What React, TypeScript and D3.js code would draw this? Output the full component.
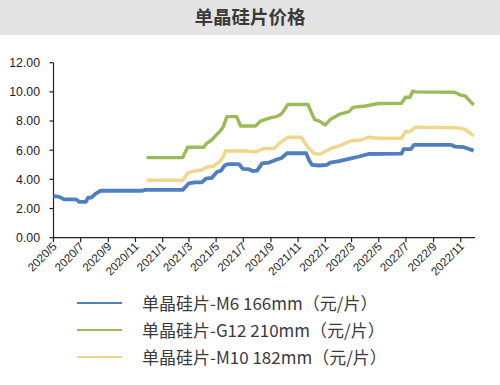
import React from "react";
import * as d3 from "d3";

const title = "单晶硅片价格";
const seriesNames = [
  "单晶硅片-M6 166mm（元/片）",
  "单晶硅片-G12 210mm（元/片）",
  "单晶硅片-M10 182mm（元/片）",
];
const colors = ["#4f7fbf", "#9bbb59", "#f0d68a"];

const m6Dates = ["2020-05-01","2020-05-14","2020-05-25","2020-06-21","2020-06-28","2020-07-12","2020-07-18","2020-07-25","2020-08-03","2020-08-15","2020-11-17","2020-11-22","2021-02-15","2021-03-01","2021-03-14","2021-03-30","2021-04-08","2021-04-21","2021-05-03","2021-05-12","2021-05-20","2021-05-29","2021-06-21","2021-06-30","2021-07-13","2021-07-22","2021-08-01","2021-08-12","2021-08-28","2021-09-13","2021-09-24","2021-10-07","2021-11-19","2021-11-26","2021-12-02","2021-12-18","2022-01-05","2022-01-12","2022-02-01","2022-02-28","2022-03-16","2022-04-08","2022-06-21","2022-06-26","2022-07-12","2022-07-19","2022-10-11","2022-10-19","2022-11-06","2022-11-18","2022-11-30"];
const m6Values = [2.85,2.8,2.63,2.63,2.45,2.45,2.75,2.75,3.0,3.22,3.22,3.28,3.28,3.73,3.8,3.8,4.05,4.1,4.5,4.6,4.95,5.05,5.05,4.72,4.7,4.57,4.6,5.1,5.15,5.35,5.45,5.79,5.79,5.3,5.0,4.95,5.0,5.15,5.25,5.44,5.55,5.74,5.76,6.08,6.08,6.36,6.36,6.25,6.22,6.1,5.97];

const g12Dates = ["2020-11-26","2021-02-15","2021-02-26","2021-04-03","2021-04-09","2021-04-21","2021-05-01","2021-05-09","2021-05-17","2021-05-25","2021-06-16","2021-06-25","2021-07-28","2021-08-09","2021-08-28","2021-09-13","2021-09-25","2021-10-09","2021-11-23","2021-12-08","2021-12-19","2022-01-01","2022-01-12","2022-02-01","2022-02-23","2022-03-04","2022-04-01","2022-05-01","2022-06-21","2022-06-30","2022-07-10","2022-07-16","2022-07-24","2022-10-18","2022-11-01","2022-11-11","2022-11-30"];
const g12Values = [5.49,5.49,6.2,6.2,6.45,6.7,7.04,7.27,7.6,8.3,8.3,7.66,7.66,8.0,8.2,8.3,8.5,9.13,9.13,8.1,8.0,7.73,8.1,8.45,8.64,8.94,9.03,9.2,9.22,9.63,9.63,10.05,10.0,9.97,9.78,9.72,9.1];

const m10Dates = ["2020-11-26","2021-02-15","2021-02-26","2021-03-12","2021-03-30","2021-04-09","2021-04-26","2021-05-09","2021-05-17","2021-05-22","2021-07-07","2021-07-28","2021-08-14","2021-09-09","2021-09-19","2021-10-09","2021-11-08","2021-11-23","2021-12-08","2021-12-21","2022-01-12","2022-02-01","2022-02-28","2022-03-22","2022-04-08","2022-05-01","2022-06-21","2022-06-30","2022-07-10","2022-07-22","2022-10-19","2022-11-01","2022-11-11","2022-11-30"];
const m10Values = [3.94,3.94,4.42,4.57,4.64,4.83,4.92,5.21,5.56,5.95,5.95,5.88,6.1,6.13,6.45,6.89,6.89,6.2,5.76,5.74,6.1,6.3,6.65,6.7,6.89,6.82,6.82,7.27,7.27,7.58,7.54,7.5,7.43,6.98];

const yTicks = [0, 2, 4, 6, 8, 10, 12];
const xTickDates = ["2020-05-01","2020-07-01","2020-09-01","2020-11-01","2021-01-01","2021-03-01","2021-05-01","2021-07-01","2021-09-01","2021-11-01","2022-01-01","2022-03-01","2022-05-01","2022-07-01","2022-09-01","2022-11-01"];
const xDomain = ["2020-05-01", "2022-12-03"];

const parse = d3.timeParse("%Y-%m-%d");

export default function App() {
  const W = 500, H = 385;
  const x = d3.scaleTime()
    .domain(xDomain.map((s) => parse(s) as Date))
    .range([53.5, 475]);
  const y = d3.scaleLinear().domain([0, 12]).range([237.7, 62.7]);

  const series = [
    { dates: m6Dates, values: m6Values },
    { dates: g12Dates, values: g12Values },
    { dates: m10Dates, values: m10Values },
  ];
  const line = d3.line<[Date, number]>()
    .x((d) => x(d[0]))
    .y((d) => y(d[1]));

  const order = [1, 2, 0];
  const axisFont = "'Liberation Sans', Arial, sans-serif";
  const cjkFont = "'Noto Sans CJK SC', 'Noto Sans', sans-serif";

  return (
    <div style={{ position: "absolute", left: 0, top: 0 }}>
      <svg width={W} height={H} style={{ display: "block" }}>
        <rect x={0} y={0} width={W} height={H} fill="#ffffff" />
        <rect x={0} y={0} width={W} height={35} fill="#e4e4e4" />
        <text x={250} y={24} textAnchor="middle" fontFamily={cjkFont} fontWeight={700} fontSize={18.5} fill="#3a3a3a">{title}</text>

        {/* y axis */}
        <line x1={53.5} x2={53.5} y1={y(12)} y2={y(0)} stroke="#222" strokeWidth={1.2} />
        {yTicks.map((t) => (
          <g key={t}>
            <line x1={49.5} x2={53.5} y1={y(t)} y2={y(t)} stroke="#222" strokeWidth={1.2} />
            <text x={40} y={y(t) + 4.4} textAnchor="end" fontFamily={axisFont} fontSize={12.3} fill="#222">{t.toFixed(2)}</text>
          </g>
        ))}

        {/* x axis */}
        <line x1={53.5} x2={475} y1={y(0)} y2={y(0)} stroke="#222" strokeWidth={1.2} />
        {xTickDates.map((s) => {
          const d = parse(s) as Date;
          const px = x(d);
          const label = `${d.getFullYear()}/${d.getMonth() + 1}`;
          return (
            <g key={s}>
              <line x1={px} x2={px} y1={y(0)} y2={y(0) + 4.5} stroke="#222" strokeWidth={1.2} />
              <text transform={`translate(${px + 4},${y(0) + 9.5}) rotate(-45)`} textAnchor="end" fontFamily={axisFont} fontSize={11.6} fill="#222">{label}</text>
            </g>
          );
        })}

        {/* series */}
        {order.map((i) => {
          const s = series[i];
          const pts = s.dates.map((dd, k) => [parse(dd) as Date, s.values[k]] as [Date, number]);
          return (
            <path key={i} d={line(pts) || ""} fill="none" stroke={colors[i]} strokeWidth={i === 0 ? 3.8 : 3.4} strokeLinejoin="round" strokeLinecap="butt" />
          );
        })}

        {/* legend */}
        {seriesNames.map((n, i) => (
          <g key={n}>
            <line x1={77} x2={122} y1={303 + i * 27} y2={303 + i * 27} stroke={colors[i]} strokeWidth={2} />
            <text x={142} y={309.5 + i * 27} fontFamily={cjkFont} fontSize={17} fill="#3a3a3a">{n}</text>
          </g>
        ))}
      </svg>
    </div>
  );
}
